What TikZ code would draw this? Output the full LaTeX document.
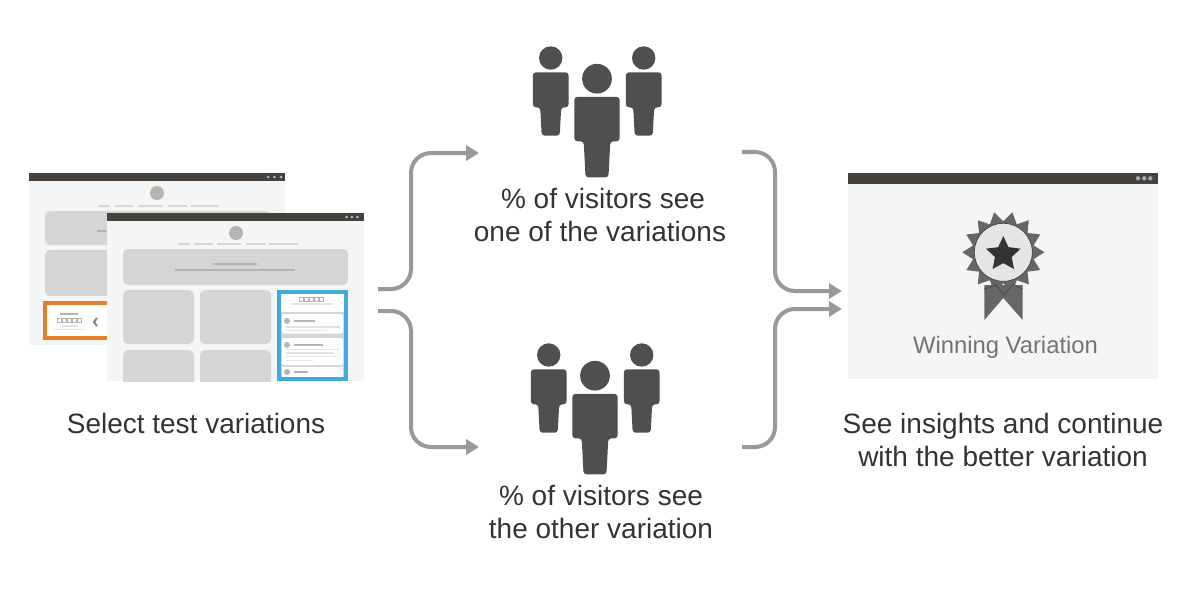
\documentclass[tikz,border=0pt]{standalone}
\usepackage{fontspec}
\setmainfont{Liberation Sans}
\usetikzlibrary{arrows.meta}
\definecolor{barcol}{HTML}{45423D}
\definecolor{bodycol}{HTML}{F4F6F5}
\definecolor{boxcol}{HTML}{D5D5D3}
\definecolor{markcol}{HTML}{B5B4B2}
\definecolor{linecol}{HTML}{E2E3E2}
\definecolor{peoplecol}{HTML}{4F4F4F}
\definecolor{flowcol}{HTML}{999999}
\definecolor{textcol}{HTML}{333333}
\definecolor{badgecol}{HTML}{666666}
\definecolor{orangecol}{HTML}{E57D2A}
\definecolor{bluecol}{HTML}{41A9DE}
\tikzset{
  winbar/.style={fill=barcol},
  winbody/.style={fill=bodycol},
  windot/.style={fill=markcol},
  graybox/.style={fill=boxcol,rounded corners=5pt},
  markbar/.style={draw=markcol,line width=1.5pt},
  navbar/.style={draw=linecol!70!markcol,line width=1.5pt},
  lightbar/.style={draw=linecol,line width=1.3pt},
  flowline/.style={draw=flowcol,line width=4pt,rounded corners=20pt,-{Triangle[length=13pt,width=15pt]}},
  caption/.style={text=textcol,align=center,font=\fontsize{28}{33}\selectfont},
}
% one figure, head centre at the origin
\newcommand{\personicon}[2]{%
  \begin{scope}[shift={(#1)},scale=#2]
    \fill[peoplecol] (0,0) circle (11.7);
    \fill[peoplecol,rounded corners=3pt] (-17.8,14.3) -- (17.8,14.3) -- (17.8,49.3) -- (10.5,49.3)
      -- (9,77.7) -- (-9,77.7) -- (-10.5,49.3) -- (-17.8,49.3) -- cycle;
  \end{scope}}
\newcommand{\squarerow}[2]{%
  \foreach \i in {0,...,4} \draw[markcol,line width=0.9pt] (#1+\i*5.2,#2-2) rectangle ++(4,4);}
\begin{document}
\begin{tikzpicture}[x=1pt,y=-1pt]
\useasboundingbox (0,0) rectangle (1199,599);

% back window
\fill[winbody] (29,173) rectangle (285,345);
\fill[winbar] (29,173) rectangle (285,181);
\foreach \x in {268,274.3,281} \fill[windot] (\x,177) circle (1.5);
\fill[markcol] (157,193) circle (7);
\foreach \a/\b in {98/110,115/133,138/163,168/187,191/219} \draw[navbar] (\a,206) -- (\b,206);
\fill[graybox] (45,211) rectangle (271,245);
\draw[markbar] (97,231) -- (150,231);
\fill[graybox] (45,250) rectangle (271,296);
\fill[white] (43,301) rectangle (150,340);
\draw[orangecol,line width=4pt] (150,303) -- (45,303) -- (45,338) -- (150,338);
\draw[markbar] (60,314) -- (78,314);
\squarerow{57}{320}
\draw[lightbar] (62,326) -- (78,326);
\draw[lightbar] (54,329.5) -- (85,329.5);
\draw[gray,line width=2pt] (97,318) -- (94,322) -- (97,326);

% front window
\fill[winbody] (107,213) rectangle (364,381);
\fill[winbar] (107,213) rectangle (364,221);
\foreach \x in {346.7,351.9,357.3} \fill[windot] (\x,217) circle (1.5);
\fill[markcol] (236,233) circle (7);
\foreach \a/\b in {178/190,194/213,217/241,246/265,269/298} \draw[navbar] (\a,244) -- (\b,244);
\fill[graybox] (123,249) rectangle (348,285);
\draw[markbar] (213,264) -- (257,264);
\draw[markbar] (175,270) -- (295,270);
\begin{scope}
  \clip (107,213) rectangle (364,381);
  \fill[graybox] (123,290) rectangle (194,344);
  \fill[graybox] (200,290) rectangle (271,344);
  \fill[graybox] (123,350) rectangle (194,390);
  \fill[graybox] (200,350) rectangle (271,390);
\end{scope}

% blue panel in the front window
\fill[boxcol] (279,292) rectangle (346,379);
\fill[white] (279,292) rectangle (346,311.5);
\squarerow{299}{299}
\draw[lightbar] (291,304) -- (333,304);
\fill[white,rounded corners=1.5pt] (282,314) rectangle (343,333.5);
\fill[markcol] (287,321) circle (3);
\draw[markbar] (294,321) -- (315,321);
\draw[lightbar] (286,327) -- (340,327);
\draw[lightbar] (286,330.5) -- (327,330.5);
\fill[white,rounded corners=1.5pt] (282,338) rectangle (343,365);
\fill[markcol] (287,345) circle (3);
\draw[markbar] (294,345) -- (323,345);
\draw[lightbar] (286,349.5) -- (338,349.5);
\draw[lightbar] (286,353) -- (334,353);
\draw[lightbar] (286,356.8) -- (337,356.8);
\draw[lightbar] (286,360.3) -- (313,360.3);
\fill[white] (282,367) rectangle (343,379);
\fill[markcol] (287,372) circle (3);
\draw[markbar] (294,372) -- (308,372);
\draw[bluecol,line width=4pt] (279,292) rectangle (346,379);

% winning window
\fill[winbody] (848,173) rectangle (1158,379);
\fill[winbar] (848,173) rectangle (1158,184);
\foreach \x in {1138,1144.3,1150.3} \fill[gray!70] (\x,178.3) circle (2.2);
\fill[badgecol] (984.3,285) -- (984.3,320) -- (1003.3,298) -- (1022.7,320) -- (1022.7,285) -- cycle;
\begin{scope}[shift={(1003.3,252.3)}]
  \fill[badgecol] (0:41) \foreach \i in {1,...,14} { -- (25.71*\i-12.86:31) -- (25.71*\i:41) } -- cycle;
  \draw[barcol,fill=gray!20,line width=0.7pt] (0,0) circle (29);
  \begin{scope}[shift={(0,2)}]
    \fill[textcol] (-90:18.2) \foreach \a in {0,...,4} { -- (-54+72*\a:8.8) -- (-18+72*\a:18.2) } -- cycle;
  \end{scope}
\end{scope}
\draw[barcol,line width=0.6pt] (984.3,289) -- (996,285) -- (1003.5,295) -- (1013,284.5) -- (1022.7,289);
\node[text=gray!90!black,font=\fontsize{23.8}{30}\selectfont] (winLabel) at (1005.5,347) {Winning Variation};

% people
\personicon{550.7,58}{1}
\personicon{643.7,58}{1}
\personicon{597,78.7}{1.27}
\personicon{548.7,355}{1}
\personicon{641.7,355}{1}
\personicon{595,375.7}{1.27}

% captions
\node[caption] (selectLabel) at (196,423.4) {Select test variations};
\node[caption] (oneLabel) at (600,215.4) {\hspace*{6pt}\% of visitors see\\one of the variations};
\node[caption] (otherLabel) at (601,512.4) {\% of visitors see\\the other variation};
\node[caption] (insightLabel) at (1003,439.9) {See insights and continue\\with the better variation};

% connectors
\coordinate (selectUp) at (378,289);
\coordinate (selectDown) at (378,311);
\coordinate (bendLeftUp) at (411,220);
\coordinate (bendLeftDown) at (411,380);
\coordinate (oneIn) at (479,153);
\coordinate (otherIn) at (479,447);
\coordinate (oneOut) at (742,152);
\coordinate (otherOut) at (742,447);
\coordinate (bendRightUp) at (775,220);
\coordinate (bendRightDown) at (775,380);
\coordinate (winUp) at (842,291);
\coordinate (winDown) at (842,309);
\draw[flowline] (selectUp) -| (bendLeftUp) |- (oneIn);
\draw[flowline] (selectDown) -| (bendLeftDown) |- (otherIn);
\draw[flowline] (oneOut) -| (bendRightUp) |- (winUp);
\draw[flowline] (otherOut) -| (bendRightDown) |- (winDown);
\end{tikzpicture}
\end{document}
